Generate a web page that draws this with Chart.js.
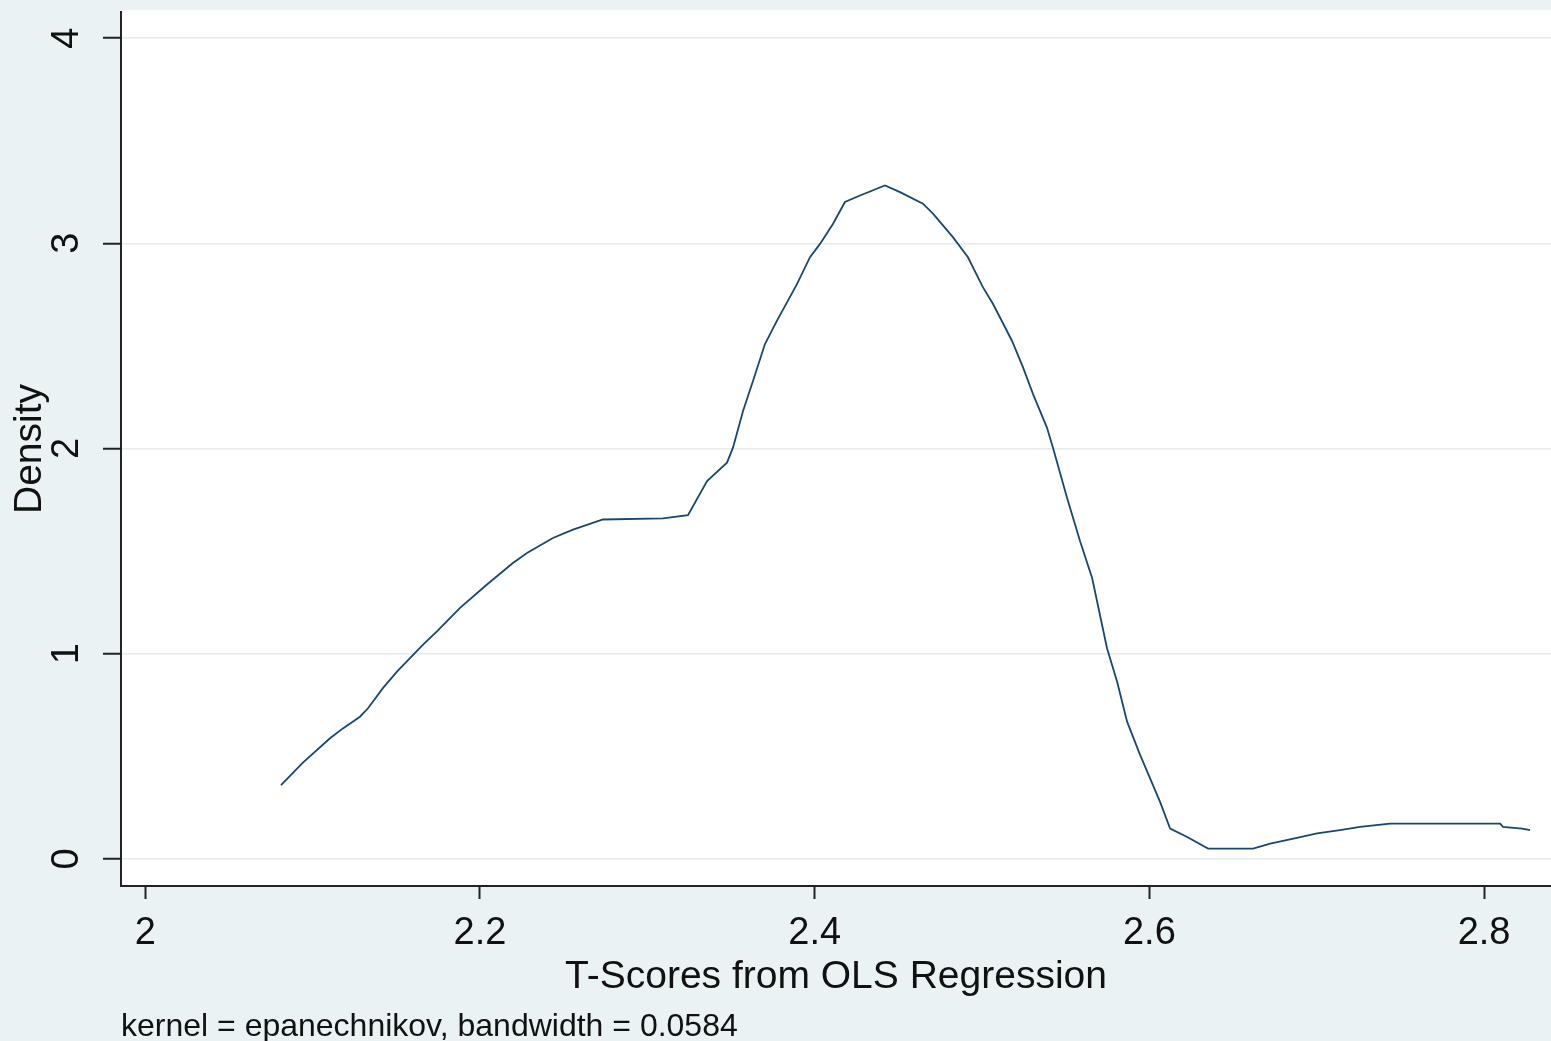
<!DOCTYPE html>
<html>
<head>
<meta charset="utf-8">
<script src="https://cdn.jsdelivr.net/npm/chart.js@4/dist/chart.umd.min.js"></script>
<style>
  body { margin:0; background:#eaf2f3; }
  #graphe { display:block; }
</style>
</head>
<body>
<canvas id="graphe" width="1551" height="1041"></canvas>
<script>
// points
const tScores = [2.0811, 2.0942, 2.1104, 2.1181, 2.1283, 2.1331, 2.1420, 2.1504, 2.1660, 2.1743,
  2.1881, 2.2042, 2.2197, 2.2281, 2.2436, 2.2556, 2.2735, 2.3094, 2.3243, 2.3357,
  2.3476, 2.3512, 2.3572, 2.3632, 2.3703, 2.3775, 2.3895, 2.3972, 2.4032, 2.4110,
  2.4181, 2.4271, 2.4420, 2.4510, 2.4647, 2.4707, 2.4826, 2.4916, 2.5006, 2.5066,
  2.5179, 2.5245, 2.5305, 2.5388, 2.5424, 2.5508, 2.5586, 2.5658, 2.5747, 2.5807,
  2.5867, 2.5944, 2.6064, 2.6124, 2.6226, 2.6351, 2.6620, 2.6722, 2.6882, 2.7002,
  2.7139, 2.7259, 2.7438, 2.8096, 2.8113, 2.8227, 2.8275]
const density = [0.360, 0.469, 0.588, 0.636, 0.693, 0.734, 0.832, 0.913, 1.044, 1.109,
  1.223, 1.337, 1.442, 1.491, 1.564, 1.605, 1.654, 1.659, 1.675, 1.841,
  1.931, 2.004, 2.183, 2.330, 2.509, 2.623, 2.802, 2.932, 2.997, 3.095,
  3.201, 3.233, 3.282, 3.249, 3.193, 3.144, 3.030, 2.932, 2.785, 2.704,
  2.525, 2.395, 2.265, 2.102, 2.004, 1.760, 1.548, 1.369, 1.027, 0.864,
  0.669, 0.508, 0.278, 0.148, 0.107, 0.050, 0.050, 0.075, 0.103, 0.124,
  0.140, 0.156, 0.172, 0.172, 0.156, 0.148, 0.140]

const xTicks = [2, 2.2, 2.4, 2.6, 2.8]
const yTicks = [0, 1, 2, 3, 4]
const xLabel = "T-Scores from OLS Regression"
const yLabel = "Density"
const note = "kernel = epanechnikov, bandwidth = 0.0584"

let points = []
for (let i = 0; i < tScores.length; i++) {
  points.push({x: tScores[i], y: density[i]})
}

Chart.defaults.font.family = "'Liberation Sans', Arial, sans-serif"
Chart.defaults.color = "#111"

// white plot region on the bluish gray background
const fondBlanc = {
  id: 'fondBlanc',
  beforeDraw(chart) {
    const a = chart.chartArea
    chart.ctx.save()
    chart.ctx.fillStyle = '#ffffff'
    chart.ctx.fillRect(a.left, a.top - 2, a.right - a.left, a.bottom - a.top + 2)
    chart.ctx.restore()
  }
}

new Chart(document.getElementById('graphe'), {
  type: 'line',
  data: {
    datasets: [{
      data: points,
      borderColor: '#1a476f',
      borderWidth: 1.8,
      pointRadius: 0,
      tension: 0,
      fill: false
    }]
  },
  options: {
    responsive: false,
    animation: false,
    devicePixelRatio: 1,
    layout: { padding: { top: 12, left: 0, right: 0, bottom: 0 } },
    plugins: {
      legend: { display: false },
      tooltip: { enabled: false },
      subtitle: {
        display: true,
        text: note,
        position: 'bottom',
        align: 'start',
        fullSize: false,
        color: '#111',
        font: { size: 32, lineHeight: 1.0, weight: 'normal' },
        padding: { top: 0, bottom: -2 }
      }
    },
    scales: {
      x: {
        type: 'linear',
        min: 1.9855,
        max: 2.840,
        afterBuildTicks: s => { s.ticks = xTicks.map(v => ({value: v})) },
        afterFit: s => {
          s.height = 125
          s.paddingLeft = 0
          s.paddingRight = 0
        },
        grid: { drawOnChartArea: false, tickLength: 13, tickColor: '#222', tickWidth: 2 },
        border: { display: true, color: '#222', width: 2 },
        ticks: { font: { size: 38 }, padding: 12, maxRotation: 0, callback: v => String(v) },
        title: { display: true, text: xLabel, font: { size: 39 }, padding: { top: 0, bottom: 10 } }
      },
      y: {
        min: -0.132,
        max: 4.127,
        afterBuildTicks: s => { s.ticks = yTicks.map(v => ({value: v})) },
        afterFit: s => {
          s.width = 121
          s.paddingTop = 0
          s.paddingBottom = 0
        },
        grid: { color: '#e6ecee', lineWidth: 1.5, tickLength: 18, tickColor: '#222', tickWidth: 2 },
        border: { display: true, color: '#222', width: 2 },
        ticks: { font: { size: 38 }, padding: 25, minRotation: 90, maxRotation: 90, crossAlign: 'center' },
        title: { display: true, text: yLabel, font: { size: 39 }, padding: { top: 7, bottom: 0 } }
      }
    }
  },
  plugins: [fondBlanc]
})
</script>
</body>
</html>
